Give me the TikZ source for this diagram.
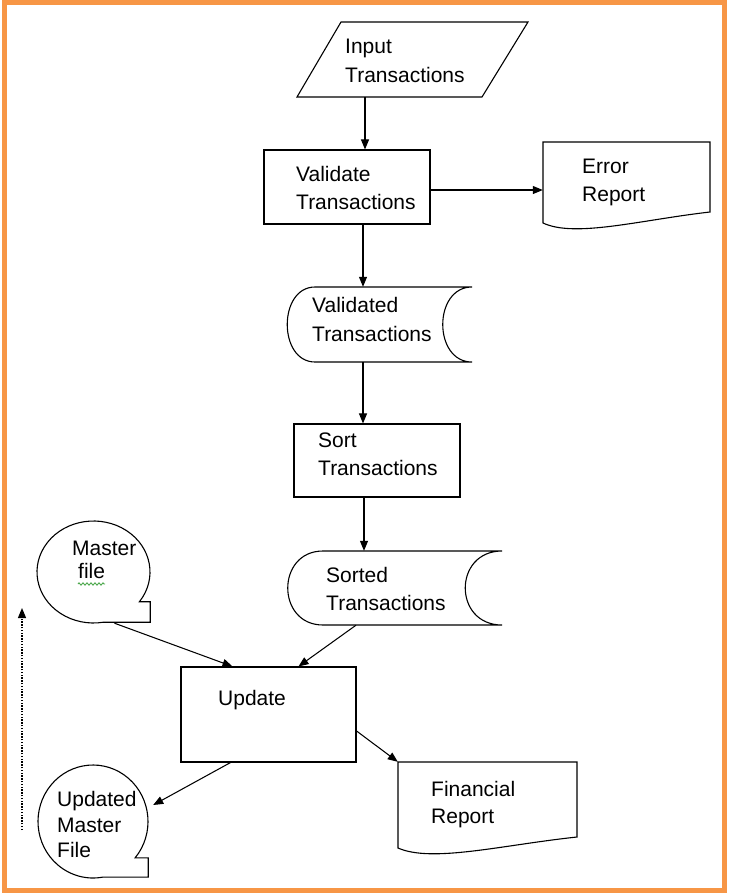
\documentclass[tikz,border=0pt]{standalone}
\usepackage{fontspec}
\setmainfont{Liberation Sans}
\usetikzlibrary{arrows.meta,decorations.pathmorphing}

\definecolor{frameorange}{HTML}{F79646}
\definecolor{spellgreen}{HTML}{3CA03C}

\tikzset{
  outline/.style={draw=black, line width=1.1pt, line join=miter},
  procbox/.style={draw=black, line width=1.1pt, inner sep=0pt},
  area/.style={inner sep=0pt},
  flow/.style={line width=1.05pt, -{Triangle[length=10pt,width=8pt]}},
  dotflow/.style={line width=1.2pt, dash pattern=on 1.4pt off 1.4pt, -{Triangle[length=10pt,width=8pt]}},
  lbl/.style={anchor=base west, inner sep=0pt, font=\fontsize{21}{28}\selectfont},
}

\begin{document}
\begin{tikzpicture}[x=1pt, y=-1pt]
\useasboundingbox (0,0) rectangle (729,895);

% outer frame
\draw[frameorange, line width=5pt] (4.5,2) rectangle (724.5,890.5);

% ---------- shapes ----------
% input (parallelogram)
\node[area, minimum width=231pt, minimum height=75pt] (input) at (412.5,59.5) {};
\draw[outline] (341,22) -- (528,22) -- (482,97) -- (297,97) -- cycle;

% processes
\node[procbox, minimum width=166pt, minimum height=74pt] (validate) at (347,187) {};
\node[procbox, minimum width=166pt, minimum height=73pt] (sort) at (377,460.5) {};
\node[procbox, minimum width=175pt, minimum height=95pt] (update) at (268.5,714.5) {};

% error report (document)
\node[area, minimum width=167pt, minimum height=88pt] (error) at (626.5,186) {};
\draw[outline] (543,142) -- (710,142) -- (710,212)
  .. controls (640,220) and (575,238) .. (543,223) -- cycle;

% financial report (document)
\node[area, minimum width=179pt, minimum height=93pt] (financial) at (487.5,808.5) {};
\draw[outline] (398,762) -- (577,762) -- (577,837)
  .. controls (502,845) and (432,863) .. (398,848) -- cycle;

% validated transactions (stored data)
\node[area, minimum width=185pt, minimum height=75pt] (validated) at (379.5,324.5) {};
\draw[outline] (315,287) -- (472,287)
  .. controls (433,287) and (433,362) .. (472,362) -- (315,362)
  .. controls (278,362) and (278,287) .. (315,287) -- cycle;

% sorted transactions (stored data)
\node[area, minimum width=214pt, minimum height=74pt] (sorted) at (395,588) {};
\draw[outline] (323,551) -- (502,551)
  .. controls (453,551) and (453,625) .. (502,625) -- (323,625)
  .. controls (276,625) and (276,551) .. (323,551) -- cycle;

% master file (sequential storage)
\node[area, minimum width=113pt, minimum height=102pt] (master) at (93.5,572) {};
\coordinate (mnotch) at ([shift={(-35.7:56.5pt and 51pt)}]master.center);
\draw[outline] (mnotch) arc[start angle=-35.7, end angle=280, x radius=56.5pt, y radius=51pt]
  -| (mnotch -| master.east) -- cycle;

% updated master file (sequential storage)
\node[area, minimum width=110pt, minimum height=113pt] (updated) at (93,821.5) {};
\coordinate (unotch) at ([shift={(-40:55pt and 56.5pt)}]updated.center);
\draw[outline] (unotch) arc[start angle=-40, end angle=280, x radius=55pt, y radius=56.5pt]
  -| (unotch -| updated.east) -- cycle;

% ---------- labels ----------
\node[lbl] (inL1) at (345,53) {Input};
\node[lbl] (inL2) at (345,82) {Transactions};
\node[lbl] (vaL1) at (296,181.5) {Validate};
\node[lbl] (vaL2) at (296,209) {Transactions};
\node[lbl] (erL1) at (582,173) {Error};
\node[lbl] (erL2) at (582,201) {Report};
\node[lbl] (vdL1) at (312,312.5) {Validated};
\node[lbl] (vdL2) at (312,341) {Transactions};
\node[lbl] (soL1) at (318,447.5) {Sort};
\node[lbl] (soL2) at (318,475.5) {Transactions};
\node[lbl] (stL1) at (326,582) {Sorted};
\node[lbl] (stL2) at (326,610) {Transactions};
\node[lbl] (maL1) at (72,555) {Master};
\node[lbl] (maL2) at (78,578) {file};
\node[lbl] (upL1) at (218,705.5) {Update};
\node[lbl] (umL1) at (57,806) {Updated};
\node[lbl] (umL2) at (57,832) {Master};
\node[lbl] (umL3) at (57,857) {File};
\node[lbl] (fiL1) at (431,796) {Financial};
\node[lbl] (fiL2) at (431,823) {Report};

% spelling mark under "file"
\draw[spellgreen, line width=0.8pt, decorate, decoration={zigzag, amplitude=1.2pt, segment length=4pt}]
  ([yshift=-6pt]maL2.base west) -- ++(27pt,0pt);

% ---------- connectors ----------
\draw[flow] ([xshift=18pt]validate.north |- input.south) -- ([xshift=18pt]validate.north);
\draw[flow] ([yshift=-3pt]validate.east) -- ([yshift=-3pt]validate.east -| error.west);
\draw[flow] ([xshift=16pt]validate.south) -- ([xshift=16pt]validate.south |- validated.north);
\draw[flow] ([xshift=-14pt]sort.north |- validated.south) -- ([xshift=-14pt]sort.north);
\draw[flow] ([xshift=-13pt]sort.south) -- ([xshift=-13pt]sort.south |- sorted.north);
\draw[flow] ([xshift=21pt]master.south) -- ([xshift=-36pt]update.north);
\draw[flow] ([xshift=-39pt]sorted.south) -- ([xshift=30pt]update.north);
\draw[flow] ([xshift=-38pt]update.south) -- ([shift={(5pt,16.5pt)}]updated.east);
\draw[flow] ([yshift=-16.5pt]update.east) -- (financial.north west);

% dotted return line
\coordinate (loopS) at (22,830);
\coordinate (loopE) at (22,608);
\draw[dotflow] (loopS) -- (loopE);
\end{tikzpicture}
\end{document}
